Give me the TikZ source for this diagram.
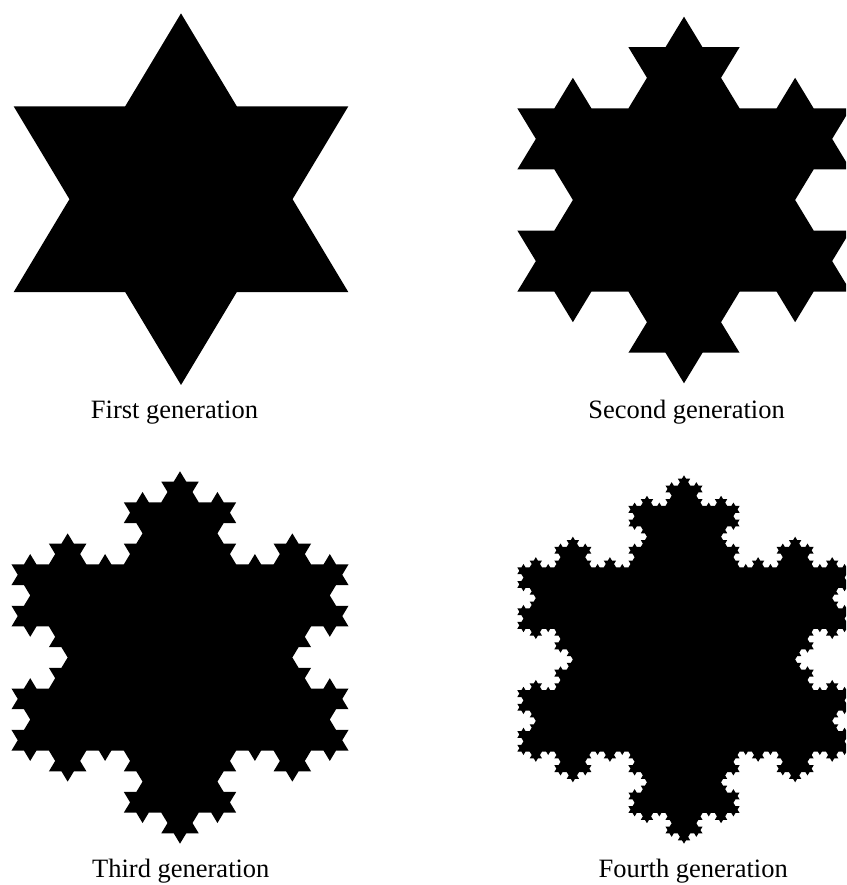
\documentclass[tikz,border=0pt]{standalone}
\usepackage{fontspec}
\setmainfont{Liberation Serif}
\usetikzlibrary{lindenmayersystems}
\pgfdeclarelindenmayersystem{Koch curve}{\rule{F -> F-F++F-F}}
\newcommand\kochflake[5]{%
  \begin{scope}[transform canvas={shift={(#1,#2)}, xscale=#5, shift={(-0.866025*#3, -0.5*#3)}}]
    \pgfmathsetmacro\kstep{#3*sqrt(3)/(3^#4)}
    \fill[black, l-system={Koch curve, axiom=F++F++F, order=#4, step=\kstep pt, angle=60}]
      (0,0) lindenmayer system;
  \end{scope}}
\begin{document}
\begin{tikzpicture}[x=1pt,y=1pt]
\tikzset{lbl/.style={anchor=base, font=\fontsize{26.5}{30}\selectfont, inner sep=0pt}}
\useasboundingbox (0,0) rectangle (846,885);
\clip (0,0) rectangle (846,885);
\kochflake{181}{685.8}{185.8}{1}{1.04}
\kochflake{684}{685}{183.3}{2}{1.05}
\kochflake{180}{227.5}{186.2}{3}{1.045}
\kochflake{684}{225.5}{184.2}{4}{1.045}
\node[lbl] (l1) at (174.5,466) {First generation};
\node[lbl] (l2) at (686.5,466) {Second generation};
\node[lbl] (l3) at (180.8,7.7) {Third generation};
\node[lbl] (l4) at (693.2,7.7) {Fourth generation};
\end{tikzpicture}
\end{document}
